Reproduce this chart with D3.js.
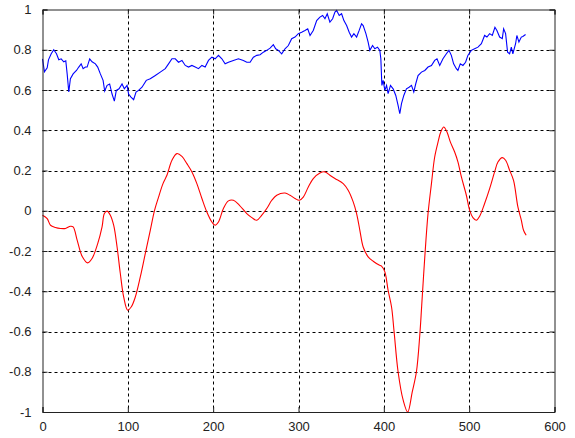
<!DOCTYPE html>
<html><head><meta charset="utf-8">
<script src="https://cdn.jsdelivr.net/npm/d3@7"></script>
<style>
html,body{margin:0;padding:0;background:#fff;}
svg{display:block;}
text{font-family:"Liberation Sans",Arial,sans-serif;font-size:13px;fill:#222;}
</style></head>
<body>
<svg id="c" width="575" height="438"></svg>
<script>
const xTicks = [0,100,200,300,400,500,600];
const xTickLabels = ["0","100","200","300","400","500","600"];
const yTicks = [1,0.8,0.6,0.4,0.2,0,-0.2,-0.4,-0.6,-0.8,-1];
const yTickLabels = ["1","0.8","0.6","0.4","0.2","0","-0.2","-0.4","-0.6","-0.8","-1"];

const blueX = [0,2.3,5.5,7,10.2,13.2,16.4,19.1,21.9,24.9,27.3,28.9,30.8,32.7,35.9,39.8,42.5,45.3,47.6,50.3,52.3,55.3,58.1,62,64.7,67.8,71,72.9,75.7,78.7,81.5,84.2,86.5,89.7,93.2,95.9,99.1,100.9,103.7,106.8,109.6,112.6,116.6,121.6,126.3,132.2,138,143.9,147.7,151.7,155.6,159.4,163.4,167.3,171.1,175.1,179,182.8,186.8,190.6,194.5,198.5,202.3,206.2,210.2,214,217.9,223.7,229.6,235.4,239.4,243.3,247.1,251.1,255,258.8,262.8,266.7,270.5,273.3,276.4,280.3,284.2,288.1,292,295.9,299.8,303.7,307.6,310.8,313.5,317.3,321.3,325.1,328.3,331,333.7,336.8,340,342.7,344.7,347.7,350.5,353.2,356.4,359.4,362.2,364.9,368.1,371.1,373.9,375.8,379,381.6,383.6,386.8,389.5,392.6,395.3,396.5,397.7,399.2,401.2,403.2,405,407.8,410.9,414,416.7,418.7,420.7,423.4,426.5,429.6,432.4,435.1,437.4,440.1,444.1,448,451.8,455.8,459.6,462.3,465.5,469.3,473.3,476.3,479.1,481.8,485,486.8,489.6,492.7,495.8,498.5,502.5,506.4,510.3,514.3,518.1,520.8,524,527.1,530.2,532.5,535.7,538.8,540.4,542.7,545,547.4,549.4,551.2,554.4,555.9,558.3,561.1,562.9,566.1];
const blueY = [0.755,0.69,0.71,0.75,0.78,0.80,0.78,0.75,0.755,0.74,0.745,0.68,0.59,0.656,0.68,0.697,0.714,0.73,0.706,0.714,0.714,0.755,0.74,0.73,0.714,0.68,0.648,0.595,0.623,0.63,0.58,0.545,0.598,0.606,0.63,0.606,0.623,0.58,0.565,0.552,0.59,0.598,0.614,0.648,0.656,0.672,0.689,0.706,0.73,0.755,0.755,0.738,0.747,0.722,0.714,0.722,0.714,0.706,0.722,0.714,0.747,0.763,0.755,0.772,0.755,0.73,0.738,0.747,0.755,0.747,0.738,0.738,0.763,0.772,0.775,0.788,0.797,0.808,0.825,0.805,0.797,0.78,0.805,0.821,0.855,0.863,0.88,0.887,0.896,0.904,0.871,0.896,0.945,0.962,0.970,0.954,0.979,0.937,0.954,0.987,0.995,0.97,0.979,0.945,0.92,0.887,0.863,0.88,0.863,0.896,0.929,0.92,0.88,0.838,0.797,0.821,0.805,0.813,0.797,0.755,0.623,0.648,0.598,0.623,0.582,0.623,0.606,0.573,0.524,0.482,0.532,0.573,0.606,0.614,0.623,0.59,0.631,0.672,0.689,0.697,0.714,0.722,0.747,0.755,0.722,0.755,0.78,0.797,0.772,0.73,0.706,0.697,0.73,0.722,0.738,0.772,0.797,0.805,0.813,0.83,0.871,0.863,0.88,0.871,0.912,0.896,0.863,0.855,0.904,0.88,0.788,0.78,0.813,0.78,0.83,0.871,0.838,0.863,0.866,0.876];

const redX = [0,5.5,9.4,15.2,21.1,26.9,32.7,35.9,40.6,46.4,53,58.1,64.7,69.8,72.5,75.7,79.5,83.4,87.4,91.2,95.1,99.8,104.1,108.8,114.6,120.5,126.3,131.3,136,141.2,145.8,151.7,157.5,163.4,169.2,175.1,180.9,186.8,192.6,198.5,202.3,206.2,212,217.9,223.7,230.8,239.4,245.3,251.1,257,262.8,268.7,274.5,284.2,290.1,295.9,300.9,305.6,311.5,317.3,325.1,331,336.8,342.7,352.4,358.2,364.1,368.1,371.9,375.8,381.6,387.5,394.5,397.3,401.2,405,409,412,416.7,422.6,428,433.3,438.2,442.1,444.4,448,451.8,455.8,459.6,463.5,466.7,470.2,474,478,483,486.9,490.9,496.7,500.6,504.4,508.4,512.3,518.1,524,529.8,533.7,538.8,542.7,547.4,552,557.1,561.1,563.7,566.8];
const redY = [-0.022,-0.039,-0.072,-0.083,-0.088,-0.088,-0.077,-0.08,-0.146,-0.226,-0.259,-0.237,-0.163,-0.08,-0.014,-0.002,-0.022,-0.072,-0.18,-0.312,-0.428,-0.494,-0.477,-0.428,-0.329,-0.212,-0.097,0.002,0.068,0.135,0.176,0.251,0.284,0.270,0.234,0.193,0.135,0.061,-0.006,-0.056,-0.072,-0.056,0.011,0.049,0.052,0.027,-0.014,-0.034,-0.047,-0.022,0.011,0.052,0.077,0.088,0.077,0.061,0.052,0.068,0.118,0.16,0.188,0.193,0.176,0.16,0.135,0.102,0.044,-0.014,-0.097,-0.18,-0.229,-0.251,-0.27,-0.275,-0.304,-0.395,-0.477,-0.6,-0.8,-0.94,-1.0,-0.9,-0.8,-0.62,-0.47,-0.23,-0.014,0.135,0.267,0.341,0.391,0.416,0.391,0.341,0.292,0.242,0.168,0.077,0.002,-0.034,-0.047,-0.027,0.036,0.11,0.193,0.242,0.264,0.251,0.201,0.151,0.019,-0.047,-0.097,-0.122];

const L = 42.5, R = 554.5, T = 9.5, B = 412;
const x = d3.scaleLinear().domain([0,600]).range([L,R]);
const y = d3.scaleLinear().domain([-1,1]).range([B,T]);
const svg = d3.select("#c");

// grid
const g = svg.append("g");
g.selectAll(".gx").data(xTicks.slice(1,-1)).enter().append("line")
  .attr("x1",d=>Math.round(x(d))+0.5).attr("x2",d=>Math.round(x(d))+0.5)
  .attr("y1",T).attr("y2",B).attr("stroke","#000").attr("stroke-dasharray","3,3");
g.selectAll(".gy").data(yTicks.slice(1,-1)).enter().append("line")
  .attr("y1",d=>Math.round(y(d))+0.5).attr("y2",d=>Math.round(y(d))+0.5)
  .attr("x1",L).attr("x2",R).attr("stroke","#000").attr("stroke-dasharray","3,3");

// lines
const blue = blueX.map((v,i)=>[v,blueY[i]]);
const red = redX.map((v,i)=>[v,redY[i]]);
svg.append("path").datum(blue).attr("fill","none").attr("stroke","#0000ff").attr("stroke-width",1.1)
  .attr("d",d3.line().x(d=>x(d[0])).y(d=>y(d[1])));
svg.append("path").datum(red).attr("fill","none").attr("stroke","#ff0000").attr("stroke-width",1.1)
  .attr("d",d3.line().curve(d3.curveCatmullRom.alpha(0.5)).x(d=>x(d[0])).y(d=>y(d[1])));

// axes
const ax = svg.append("g").attr("stroke","#222");
const xl = d3.axisBottom(x).tickValues(xTicks).tickSize(-5).tickFormat((d,i)=>xTickLabels[i]).tickPadding(10);
const yl = d3.axisLeft(y).tickValues(yTicks).tickSize(-5).tickFormat((d,i)=>yTickLabels[i]).tickPadding(11);
const xb = svg.append("g").attr("transform",`translate(0,${B})`).call(xl);
const xt = svg.append("g").attr("transform",`translate(0,${T})`).call(d3.axisTop(x).tickValues(xTicks).tickSize(-5).tickFormat(""));
const yleft = svg.append("g").attr("transform",`translate(${L},0)`).call(yl);
const yr = svg.append("g").attr("transform",`translate(${R},0)`).call(d3.axisRight(y).tickValues(yTicks).tickSize(-5).tickFormat(""));
[xb,xt,yleft,yr].forEach(s=>{
  s.select(".domain").attr("stroke","#222");
  s.selectAll(".tick line").attr("stroke","#222");
  s.selectAll("text").attr("fill","#222").style("font-family",'"Liberation Sans",Arial,sans-serif').style("font-size","13px");
});
</script>
</body></html>
